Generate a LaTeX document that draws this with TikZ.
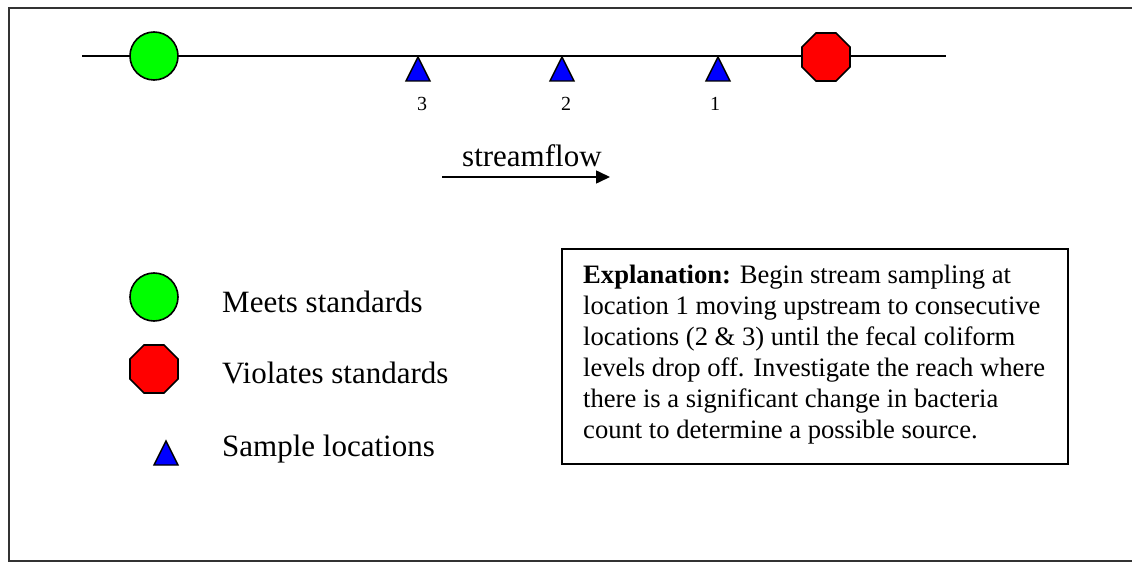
\documentclass[tikz,border=0pt]{standalone}
\usepackage{fontspec}
\setmainfont{Liberation Serif}
\usetikzlibrary{shapes.geometric,arrows.meta}
\begin{document}
\begin{tikzpicture}[x=1pt,y=-1pt,
  meets/.style={circle,draw=black,line width=1.6pt,fill=green,minimum size=48pt,inner sep=0pt,outer sep=0pt},
  violates/.style={regular polygon,regular polygon sides=8,draw=black,line width=1.6pt,fill=red,minimum size=52pt,inner sep=0pt,outer sep=0pt},
  tri/.style={draw=black,line width=1.4pt,fill=blue,line join=miter},
  lbl/.style={anchor=base west,inner sep=0pt,font=\fontsize{31}{36}\selectfont},
  num/.style={anchor=base,inner sep=0pt,font=\fontsize{20}{24}\selectfont},
  expl/.style={anchor=base west,inner sep=0pt,font=\fontsize{26.6}{31}\selectfont}]
\useasboundingbox (0,0) rectangle (1132,564);
\fill[white] (0,0) rectangle (1132,564);
% outer frame (its right side lies beyond the page)
\coordinate (fTR) at (1132,8);
\coordinate (fTL) at (9,8);
\coordinate (fBL) at (9,561);
\coordinate (fBR) at (1132,561);
\draw[line width=2pt,color=black!80] (fTR) -- (fTL) -- (fBL) -- (fBR);
% stream
\coordinate (sL) at (82,56);
\coordinate (sR) at (946,56);
\draw[line width=1.8pt] (sL) -- (sR);
\node[meets] (g) at (154,56) {};
\node[violates] (r) at (826,57) {};
% sample locations
\foreach \x/\n in {418/3,562/2,718/1}{
  \draw[tri] (\x,57) -- (\x+12,81) -- (\x-12,81) -- cycle;
}
\node[num] (n3) at (422,111) {3};
\node[num] (n2) at (566,111) {2};
\node[num] (n1) at (715,111) {1};
% streamflow
\node[lbl] (sf) at (462,167) {streamflow};
\coordinate (a1) at (442,177);
\coordinate (a2) at (610,177);
\draw[line width=1.6pt,-{Triangle[length=14pt,width=13pt]}] (a1) -- (a2);
% legend
\node[meets] (lg) at (154,297) {};
\node[violates] (lr) at (154,369) {};
\draw[tri] (166,441) -- (178,465) -- (154,465) -- cycle;
\node[lbl] (t1) at (222,312) {Meets standards};
\node[lbl] (t2) at (222,383) {Violates standards};
\node[lbl] (t3) at (222,456) {Sample locations};
% explanation box
\draw[line width=2.2pt] (562,249) rectangle (1068,464);
\node[expl] (e1) at (583,283) {\textbf{Explanation:} Begin stream sampling at};
\node[expl] (e2) at (583,314) {location 1 moving upstream to consecutive};
\node[expl] (e3) at (583,345) {locations (2 \& 3) until the fecal coliform};
\node[expl] (e4) at (583,376) {levels drop off. Investigate the reach where};
\node[expl] (e5) at (583,407) {there is a significant change in bacteria};
\node[expl] (e6) at (583,438) {count to determine a possible source.};
\end{tikzpicture}
\end{document}
